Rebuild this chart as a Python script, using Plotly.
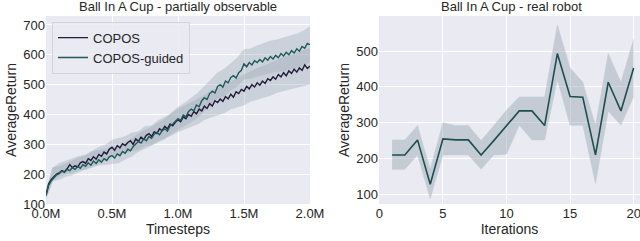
import plotly.graph_objects as go

# ---------------- Left panel data (timesteps in millions) ----------------
t_fine = [round(0.02 * i, 2) for i in range(101)]
copos = [130, 168, 182, 190, 200, 204, 212, 208, 218, 232,
         222, 228, 224, 238, 242, 236, 252, 246, 258, 250,
         266, 260, 274, 268, 284, 290, 280, 296, 288, 302,
         296, 306, 312, 300, 318, 310, 324, 316, 330, 336,
         326, 342, 336, 352, 346, 360, 352, 368, 362, 374,
         382, 376, 392, 386, 400, 394, 410, 402, 418, 412,
         428, 420, 436, 428, 446, 440, 452, 444, 460, 452,
         468, 458, 476, 470, 484, 478, 494, 486, 500, 492,
         506, 498, 512, 504, 520, 514, 526, 518, 534, 526,
         540, 530, 546, 538, 552, 542, 556, 548, 566, 554, 562]
guided = [128, 162, 178, 188, 198, 202, 210, 206, 216, 212,
          222, 216, 226, 220, 232, 226, 238, 230, 244, 236,
          248, 240, 252, 246, 258, 262, 254, 268, 262, 276,
          270, 284, 278, 292, 300, 310, 304, 318, 312, 326,
          320, 334, 340, 332, 346, 352, 344, 362, 368, 378,
          386, 380, 398, 392, 410, 418, 412, 432, 426, 446,
          456, 450, 470, 478, 472, 494, 500, 492, 512, 506,
          524, 530, 522, 540, 548, 570, 560, 574, 566, 580,
          574, 584, 576, 590, 582, 594, 586, 598, 590, 604,
          596, 608, 600, 614, 606, 620, 612, 628, 622, 638, 634]

t_band = [round(0.05 * i, 2) for i in range(41)]
copos_up = [140, 222, 226, 236, 246, 256, 264, 278, 290, 298, 314, 320, 326, 338, 342,
            360, 362, 380, 390, 402, 418, 428, 440, 452, 467, 479, 486, 498, 510, 522,
            532, 544, 554, 562, 572, 582, 592, 598, 606, 612, 622]
copos_lo = [120, 178, 182, 192, 198, 208, 216, 226, 238, 246, 262, 264, 270, 278, 282,
            296, 298, 312, 322, 330, 342, 352, 360, 368, 383, 391, 398, 406, 418, 426,
            432, 444, 450, 458, 464, 474, 480, 486, 490, 496, 502]
guided_up = [138, 220, 236, 244, 252, 260, 264, 276, 282, 284, 288, 294, 306, 320, 336,
             350, 360, 374, 386, 406, 424, 438, 456, 472, 494, 518, 540, 552, 572, 590,
             618, 620, 630, 638, 646, 650, 656, 662, 670, 680, 694]
guided_lo = [118, 176, 192, 200, 204, 212, 216, 224, 230, 232, 236, 238, 250, 260, 276,
             286, 296, 306, 318, 334, 348, 362, 376, 388, 410, 430, 452, 460, 480, 494,
             518, 520, 526, 534, 538, 542, 544, 550, 554, 564, 574]

x_ticks_left = [0, 0.5, 1.0, 1.5, 2.0]
x_ticklabels_left = ["0.0M", "0.5M", "1.0M", "1.5M", "2.0M"]
y_ticks_left = [100, 200, 300, 400, 500, 600, 700]

# ---------------- Right panel data ----------------
iterations = list(range(1, 21))
robot_mean = [210, 210, 252, 128, 255, 252, 252, 210, 250, 292,
              333, 333, 292, 493, 373, 371, 210, 413, 333, 453]
robot_up = [252, 252, 292, 170, 300, 292, 292, 250, 292, 335,
            372, 372, 372, 573, 453, 413, 292, 493, 413, 533]
robot_lo = [170, 170, 210, 88, 210, 210, 210, 170, 210, 212,
            293, 252, 252, 420, 293, 293, 130, 333, 293, 373]
x_ticks_right = [0, 5, 10, 15, 20]
y_ticks_right = [100, 200, 300, 400, 500]

FONT = "Liberation Sans, Arial, sans-serif"
BG = "#EAEAF2"
DARK = "#241b38"
TEAL = "#1d5a5a"
BAND = "rgba(150,166,178,0.36)"

fig = go.Figure()

def band(x, up, lo, xa, ya, color):
    fig.add_trace(go.Scatter(x=x, y=up, mode="lines", line=dict(width=0.6, color="rgba(195,204,212,0.9)"),
                             showlegend=False, hoverinfo="skip", xaxis=xa, yaxis=ya))
    fig.add_trace(go.Scatter(x=x, y=lo, mode="lines", line=dict(width=0.6, color="rgba(195,204,212,0.9)"),
                             fill="tonexty", fillcolor=color, showlegend=False,
                             hoverinfo="skip", xaxis=xa, yaxis=ya))

band(t_band, copos_up, copos_lo, "x", "y", BAND)
band(t_band, guided_up, guided_lo, "x", "y", BAND)

fig.add_trace(go.Scatter(x=t_fine, y=copos, mode="lines", name="COPOS",
                         line=dict(color=DARK, width=1.4), xaxis="x", yaxis="y"))
fig.add_trace(go.Scatter(x=t_fine, y=guided, mode="lines", name="COPOS-guided",
                         line=dict(color=TEAL, width=1.4), xaxis="x", yaxis="y"))

band(iterations, robot_up, robot_lo, "x2", "y2", "rgba(150,166,178,0.45)")
fig.add_trace(go.Scatter(x=iterations, y=robot_mean, mode="lines", showlegend=False,
                         line=dict(color="#1d4f50", width=1.6), xaxis="x2", yaxis="y2"))

axis_common = dict(showgrid=True, gridcolor="white", gridwidth=1.2, zeroline=False,
                   showline=False, ticks="", tickfont=dict(size=13, color="#262626", family=FONT),
                   automargin=False, ticklabeloverflow="allow")

fig.update_layout(
    width=640, height=241,
    margin=dict(l=0, r=0, t=16, b=37),
    paper_bgcolor="white", plot_bgcolor=BG,
    font=dict(family=FONT, color="#262626"),
    xaxis=dict(domain=[46 / 640, 310 / 640], range=[0, 2.0], tickvals=x_ticks_left,
               ticktext=x_ticklabels_left, anchor="y",
               title=dict(text="Timesteps", font=dict(size=14), standoff=1), **axis_common),
    yaxis=dict(domain=[0, 1], range=[100, 730], tickvals=y_ticks_left, anchor="x",
               title=dict(text="AverageReturn", font=dict(size=14), standoff=3), **axis_common),
    xaxis2=dict(domain=[379 / 640, 1.0], range=[-0.03, 20.5], tickvals=x_ticks_right, anchor="y2",
                title=dict(text="Iterations", font=dict(size=14), standoff=1), **axis_common),
    yaxis2=dict(domain=[0, 1], range=[73, 598], tickvals=y_ticks_right, anchor="x2",
                title=dict(text="AverageReturn", font=dict(size=14), standoff=3), **axis_common),
    legend=dict(x=52 / 640, y=0.97, xref="paper", yref="paper", xanchor="left", yanchor="top",
                bgcolor="rgba(234,234,242,0.85)", bordercolor="#d4d4dc", borderwidth=1,
                font=dict(size=13, color="#262626", family=FONT), tracegroupgap=0,
                traceorder="normal", itemwidth=30),
    annotations=[
        dict(text="Ball In A Cup - partially observable", x=178 / 640, y=1, xref="paper", yref="paper",
             xanchor="center", yanchor="bottom", showarrow=False, font=dict(size=13, color="#262626")),
        dict(text="Ball In A Cup - real robot", x=511 / 640, y=1, xref="paper", yref="paper",
             xanchor="center", yanchor="bottom", showarrow=False, font=dict(size=13, color="#262626")),
    ],
)

fig.write_html("out.html", config={"displayModeBar": False},
               post_script="document.body.style.margin='0';document.body.style.overflow='hidden';")
